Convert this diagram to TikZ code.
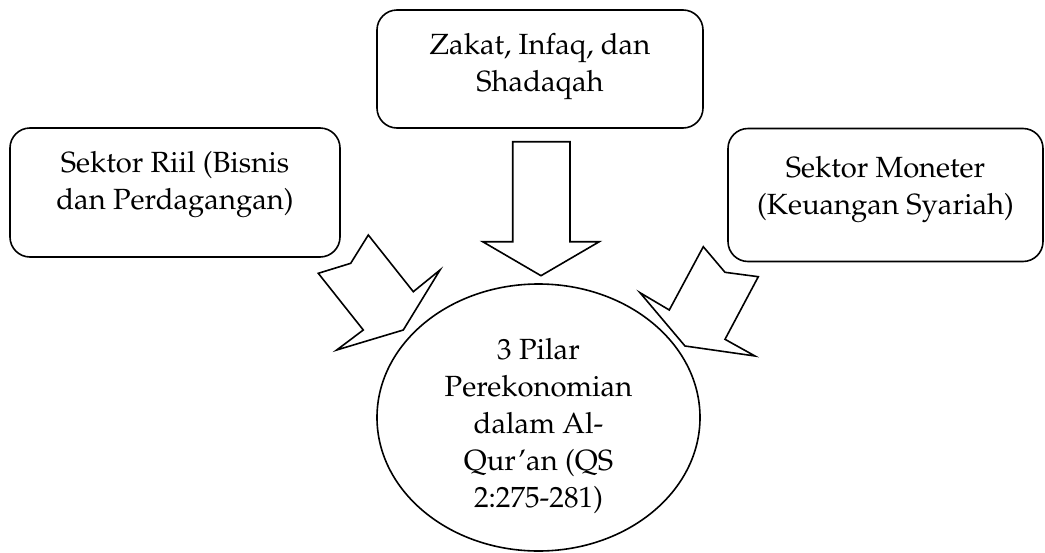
\documentclass[tikz,border=0pt]{standalone}
\usepackage[T1]{fontenc}
\renewcommand{\rmdefault}{ppl}
\usetikzlibrary{shapes.geometric}
\begin{document}
\begin{tikzpicture}[x=0.5pt,y=-0.5pt,
  stroke/.style={line width=0.8pt, line join=miter},
  rbox/.style={stroke, draw, rounded corners=10pt, inner sep=0pt},
  oval/.style={stroke, draw, ellipse, inner sep=0pt},
  lbl/.style={align=center, inner sep=0pt, anchor=north, font=\fontsize{14.6}{18.5}\selectfont},
  blockarrow/.style={stroke, draw, fill=white}]
\useasboundingbox (0,0) rectangle (1045,552);
% boxes
\node[rbox, minimum width=165pt, minimum height=64.5pt] (riil) at (175,192.5) {};
\node[rbox, minimum width=163pt, minimum height=59pt] (zis) at (540,69) {};
\node[rbox, minimum width=157.5pt, minimum height=66.5pt] (moneter) at (885.5,195) {};
\node[oval, minimum width=161.5pt, minimum height=133.5pt] (pilar) at (538.5,417.5) {};
% texts
\node[lbl] (triil) at (175,151) {Sektor Riil (Bisnis\\dan Perdagangan)};
\node[lbl] (tzis) at (540,33) {Zakat, Infaq, dan\\Shadaqah};
\node[lbl] (tmon) at (885.5,156) {Sektor Moneter\\(Keuangan Syariah)};
\node[lbl] (tpil) at (538.5,338) {3 Pilar\\Perekonomian\\dalam Al-\\Qur'an (QS\\2:275-281)};
% block arrows
\draw[blockarrow] (512.7,141.7) -- (570,141.7) -- (570,241.7) -- (599.3,241.7) -- (541,275.7) -- (482.7,241.7) -- (512.7,241.7) -- cycle;
\draw[blockarrow] (368.3,235) -- (413.3,291.7) -- (440,270) -- (403.3,330) -- (336.7,350) -- (363.3,330) -- (318.3,273.3) -- (350.7,263.3) -- cycle;
\draw[blockarrow] (703.3,246.7) -- (725,272.3) -- (758.3,276.7) -- (725,339.3) -- (755,356) -- (685,346) -- (640,292.7) -- (669.3,310) -- cycle;
\end{tikzpicture}
\end{document}
